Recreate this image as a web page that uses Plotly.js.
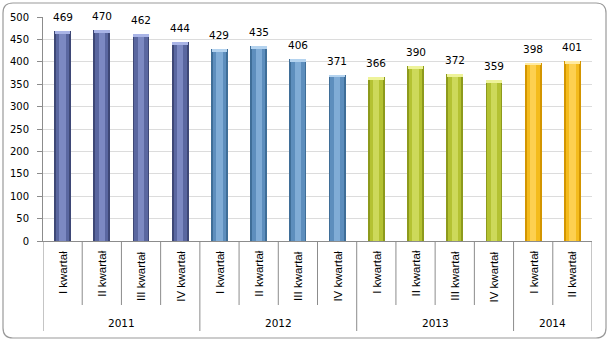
<!DOCTYPE html>
<html>
<head>
<meta charset="utf-8">
<script src="https://cdn.plot.ly/plotly-3.0.1.min.js"></script>
<style>html,body{margin:0;padding:0;background:#fff;}#chart{width:610px;height:341px;}</style>
</head>
<body>
<div id="chart"></div>
<script>
// ---- data ----
const years = ['2011', '2012', '2013', '2014'];
const quarterYears = ['2011','2011','2011','2011','2012','2012','2012','2012','2013','2013','2013','2013','2014','2014'];
const quarterLabels = ['I kwartał','II kwartał','III kwartał','IV kwartał','I kwartał','II kwartał','III kwartał','IV kwartał','I kwartał','II kwartał','III kwartał','IV kwartał','I kwartał','II kwartał'];
const values = [469, 470, 462, 444, 429, 435, 406, 371, 366, 390, 372, 359, 398, 401];

// ---- styles ----
const yearColors = {
  '2011': {edge: '#3e4876', mid: '#5a67a0', light: '#7c89c2', cap: '#a9b4e6'},
  '2012': {edge: '#3f6e98', mid: '#5d8ebd', light: '#80acd6', cap: '#b4d3ef'},
  '2013': {edge: '#8d9a1c', mid: '#b4c232', light: '#cdd95a', cap: '#eef39a'},
  '2014': {edge: '#d39500', mid: '#f4bb1c', light: '#fdd050', cap: '#ffeaa0'}
};

const W = 610, H = 341;
const L = 43, R = 592, T = 17, B = 241;
const px2x = p => (p - L) / (R - L);
const py2y = p => (B - p) / (B - T);

const idx = values.map((v, i) => i);
const col = k => quarterYears.map(y => yearColors[y][k]);

function barTrace(width, colorKey, opts) {
  return Object.assign({
    type: 'bar', x: idx, y: values, width: width,
    marker: {color: col(colorKey), line: {width: 0}},
    hoverinfo: 'skip', showlegend: false
  }, opts || {});
}

const capH = values.map(() => 6);
const traces = [
  barTrace(0.43, 'edge'),
  barTrace(0.34, 'mid'),
  barTrace(0.16, 'light'),
  barTrace(0.40, 'cap', {y: capH, base: values.map((v, i) => v - capH[i])})
];

const shapes = [];
for (let b = 0; b <= quarterLabels.length; b++) {
  const isYear = b === 0 || b === quarterLabels.length || quarterYears[b] !== quarterYears[b - 1];
  shapes.push({type: 'line', xref: 'x', yref: 'paper', x0: b - 0.5, x1: b - 0.5,
    y0: 0, y1: py2y(isYear ? 331 : 305), line: {color: '#8c8c8c', width: 1}});
}
// outer rounded border
(function () {
  const x0 = px2x(3), x1 = px2x(606), y0 = py2y(3), y1 = py2y(338);
  const rx = 10 / (R - L), ry = 10 / (B - T);
  const path = `M ${x0 + rx},${y0} L ${x1 - rx},${y0} Q ${x1},${y0} ${x1},${y0 - ry} ` +
    `L ${x1},${y1 + ry} Q ${x1},${y1} ${x1 - rx},${y1} L ${x0 + rx},${y1} Q ${x0},${y1} ${x0},${y1 + ry} ` +
    `L ${x0},${y0 - ry} Q ${x0},${y0} ${x0 + rx},${y0} Z`;
  shapes.push({type: 'path', xref: 'paper', yref: 'paper', path: path, line: {color: '#9a9a9a', width: 1.2}});
})();

const annotations = [];
values.forEach((v, i) => {
  annotations.push({x: i, y: v, xref: 'x', yref: 'y', text: String(v), showarrow: false,
    yanchor: 'bottom', yshift: 6, font: {family: 'DejaVu Sans', size: 10.5, color: '#000'}});
  annotations.push({x: i, y: py2y(249), xref: 'x', yref: 'paper', text: quarterLabels[i], showarrow: false,
    textangle: -90, yanchor: 'top', xanchor: 'center', font: {family: 'Liberation Sans', size: 11.5, color: '#000'}});
});
years.forEach(y => {
  const ids = idx.filter(i => quarterYears[i] === y);
  const c = (ids[0] + ids[ids.length - 1]) / 2;
  annotations.push({x: c, y: py2y(323), xref: 'x', yref: 'paper', text: y, showarrow: false,
    yanchor: 'middle', font: {family: 'DejaVu Sans', size: 10.5, color: '#000'}});
});

const layout = {
  width: W, height: H,
  margin: {l: L, r: W - R, t: T, b: H - B, pad: 0},
  paper_bgcolor: '#fff', plot_bgcolor: '#fff',
  barmode: 'overlay', bargap: 0,
  xaxis: {range: [-0.5, quarterLabels.length - 0.5], showticklabels: false, showgrid: false,
    zeroline: false, showline: true, linecolor: '#8c8c8c', linewidth: 1, ticks: ''},
  yaxis: {range: [0, 500], dtick: 50, tick0: 0, showgrid: true, gridcolor: '#dcdcdc', gridwidth: 1,
    zeroline: false, showline: true, linecolor: '#8c8c8c', linewidth: 1,
    ticks: 'outside', ticklen: 5, tickcolor: '#8c8c8c', ticklabelstandoff: 6,
    tickfont: {family: 'DejaVu Sans', size: 10, color: '#000'}},
  shapes: shapes, annotations: annotations,
  hovermode: false, showlegend: false
};

Plotly.newPlot('chart', traces, layout, {staticPlot: true, displayModeBar: false});
</script>
</body>
</html>
